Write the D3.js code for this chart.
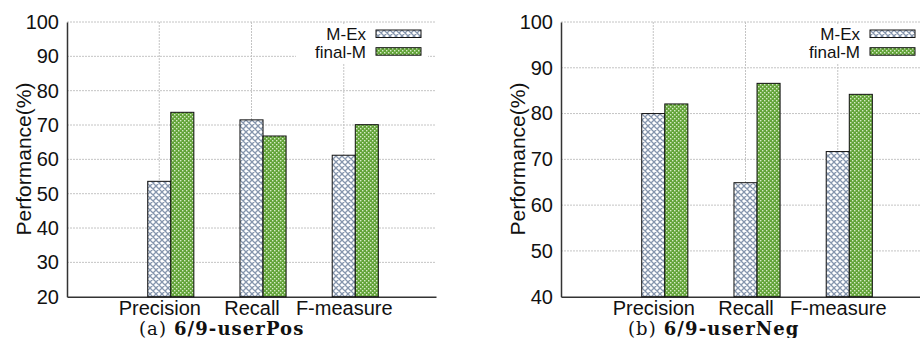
<!DOCTYPE html>
<html>
<head>
<meta charset="utf-8">
<script src="https://cdn.jsdelivr.net/npm/d3@7"></script>
<style>
  html, body { margin: 0; padding: 0; background: #fff; }
  svg { display: block; }
  text { font-family: "Liberation Sans", Arial, Helvetica, sans-serif; fill: #111; }
  .cap { font-family: "DejaVu Serif", "Liberation Serif", serif; }
</style>
</head>
<body>
<svg id="chart" width="920" height="338"></svg>
<script>
// ---- data ----
const categories = ["Precision", "Recall", "F-measure"];
const seriesNames = ["M-Ex", "final-M"];
const userPosMEx   = [53.6, 71.5, 61.2];
const userPosFinal = [73.7, 66.8, 70.1];
const userNegMEx   = [80.0, 64.9, 71.7];
const userNegFinal = [82.1, 86.6, 84.2];
const posTicks = [20, 30, 40, 50, 60, 70, 80, 90, 100];
const negTicks = [40, 50, 60, 70, 80, 90, 100];
const yTitle = "Performance(%)";
const captionPrefixes = ["(a) ", "(b) "];
const captionTitles = ["6/9-userPos", "6/9-userNeg"];

const svg = d3.select("#chart");
const defs = svg.append("defs");

// crosshatch pattern (M-Ex)
const ch = defs.append("pattern").attr("id", "cross")
  .attr("patternUnits", "userSpaceOnUse").attr("width", 6).attr("height", 6);
ch.append("rect").attr("width", 6).attr("height", 6).attr("fill", "#fff");
ch.append("path")
  .attr("d", "M-1,1 L1,-1 M0,6 L6,0 M5,7 L7,5 M-1,5 L1,7 M0,0 L6,6 M5,-1 L7,1")
  .attr("stroke", "#8595ad").attr("stroke-width", 1.3).attr("fill", "none");

// green dotted pattern (final-M)
const gd = defs.append("pattern").attr("id", "dots")
  .attr("patternUnits", "userSpaceOnUse").attr("width", 4).attr("height", 4);
gd.append("rect").attr("width", 4).attr("height", 4).attr("fill", "#62a338");
gd.append("rect").attr("x", 0).attr("y", 0).attr("width", 1.4).attr("height", 1.4).attr("fill", "#d6ebc6");
gd.append("rect").attr("x", 2).attr("y", 2).attr("width", 1.4).attr("height", 1.4).attr("fill", "#d6ebc6");

const fills = ["url(#cross)", "url(#dots)"];

function panel(cfg) {
  const g = svg.append("g");
  const x = d3.scaleLinear().domain([0, 4]).range([cfg.left, cfg.left + 369]);
  const y = d3.scaleLinear().domain([cfg.ymin, 100]).range([296.7, 22]);
  const top = y(100), bottom = y(cfg.ymin);
  const right = x(4);

  // horizontal grid
  g.append("g").selectAll("line").data(cfg.ticks.filter(t => t !== cfg.ymin)).join("line")
    .attr("x1", x(0)).attr("x2", right)
    .attr("y1", d => y(d)).attr("y2", d => y(d))
    .attr("stroke", "#c4c4c4").attr("stroke-width", 1).attr("stroke-dasharray", "2,1");
  // vertical grid
  g.append("g").selectAll("line").data(categories).join("line")
    .attr("x1", (d, i) => x(i + 1)).attr("x2", (d, i) => x(i + 1))
    .attr("y1", top).attr("y2", bottom)
    .attr("stroke", "#c4c4c4").attr("stroke-width", 1).attr("stroke-dasharray", "2,1");

  // legend box (white background)
  g.append("rect").attr("x", right - 140).attr("y", 24).attr("width", 132).attr("height", 39)
    .attr("fill", "#fff");

  // y axis
  const yAxis = d3.axisLeft(y).tickValues(cfg.ticks).tickSize(0).tickPadding(8);
  const ya = g.append("g").attr("transform", `translate(${x(0)},0)`).call(yAxis);
  ya.select(".domain").attr("stroke", "#333").attr("stroke-width", 1.5);
  ya.selectAll("text").attr("font-size", 20).attr("fill", "#111")
    .style("font-family", '"Liberation Sans", Arial, sans-serif');

  // x axis
  const xAxis = d3.axisBottom(x).tickValues([1, 2, 3])
    .tickFormat(d => categories[d - 1]).tickSize(0).tickPadding(4);
  const xa = g.append("g").attr("transform", `translate(0,${bottom})`).call(xAxis);
  xa.select(".domain").attr("stroke", "#333").attr("stroke-width", 1.5);
  xa.selectAll("text").attr("font-size", 20).attr("fill", "#111")
    .style("font-family", '"Liberation Sans", Arial, sans-serif');

  // bars
  const seriesVals = [cfg.a, cfg.b];
  seriesVals.forEach((vals, s) => {
    g.append("g").selectAll("rect").data(vals).join("rect")
      .attr("x", (d, i) => x(i + 1 - 0.125 + s * 0.25))
      .attr("width", x(0.25) - x(0))
      .attr("y", d => y(d))
      .attr("height", d => bottom - y(d))
      .attr("fill", fills[s])
      .attr("stroke", "#111").attr("stroke-width", 1);
  });

  // legend
  seriesNames.forEach((name, s) => {
    const sy = 30 + s * 17.7;
    g.append("rect").attr("x", right - 60).attr("y", sy).attr("width", 45).attr("height", 7.5)
      .attr("fill", fills[s]).attr("stroke", "#111").attr("stroke-width", 1);
    g.append("text").attr("x", right - 70).attr("y", sy + 3.75 + 6.2)
      .attr("text-anchor", "end").attr("font-size", 17).text(name);
  });

  // y title
  g.append("text")
    .attr("transform", `translate(${cfg.left - 44},159) rotate(-90)`)
    .attr("text-anchor", "middle").attr("dominant-baseline", "central")
    .attr("font-size", 21).text(yTitle);

  // caption
  const cap = g.append("text").attr("class", "cap")
    .attr("x", cfg.capX).attr("y", 335).attr("font-size", 18)
    .attr("letter-spacing", 1.1);
  cap.append("tspan").text(cfg.capPrefix);
  cap.append("tspan").attr("font-weight", "bold").text(cfg.capTitle);
}

panel({ left: 67, ymin: 20, ticks: posTicks, a: userPosMEx, b: userPosFinal,
        capX: 139, capPrefix: captionPrefixes[0], capTitle: captionTitles[0] });
panel({ left: 561, ymin: 40, ticks: negTicks, a: userNegMEx, b: userNegFinal,
        capX: 628, capPrefix: captionPrefixes[1], capTitle: captionTitles[1] });
</script>
</body>
</html>
